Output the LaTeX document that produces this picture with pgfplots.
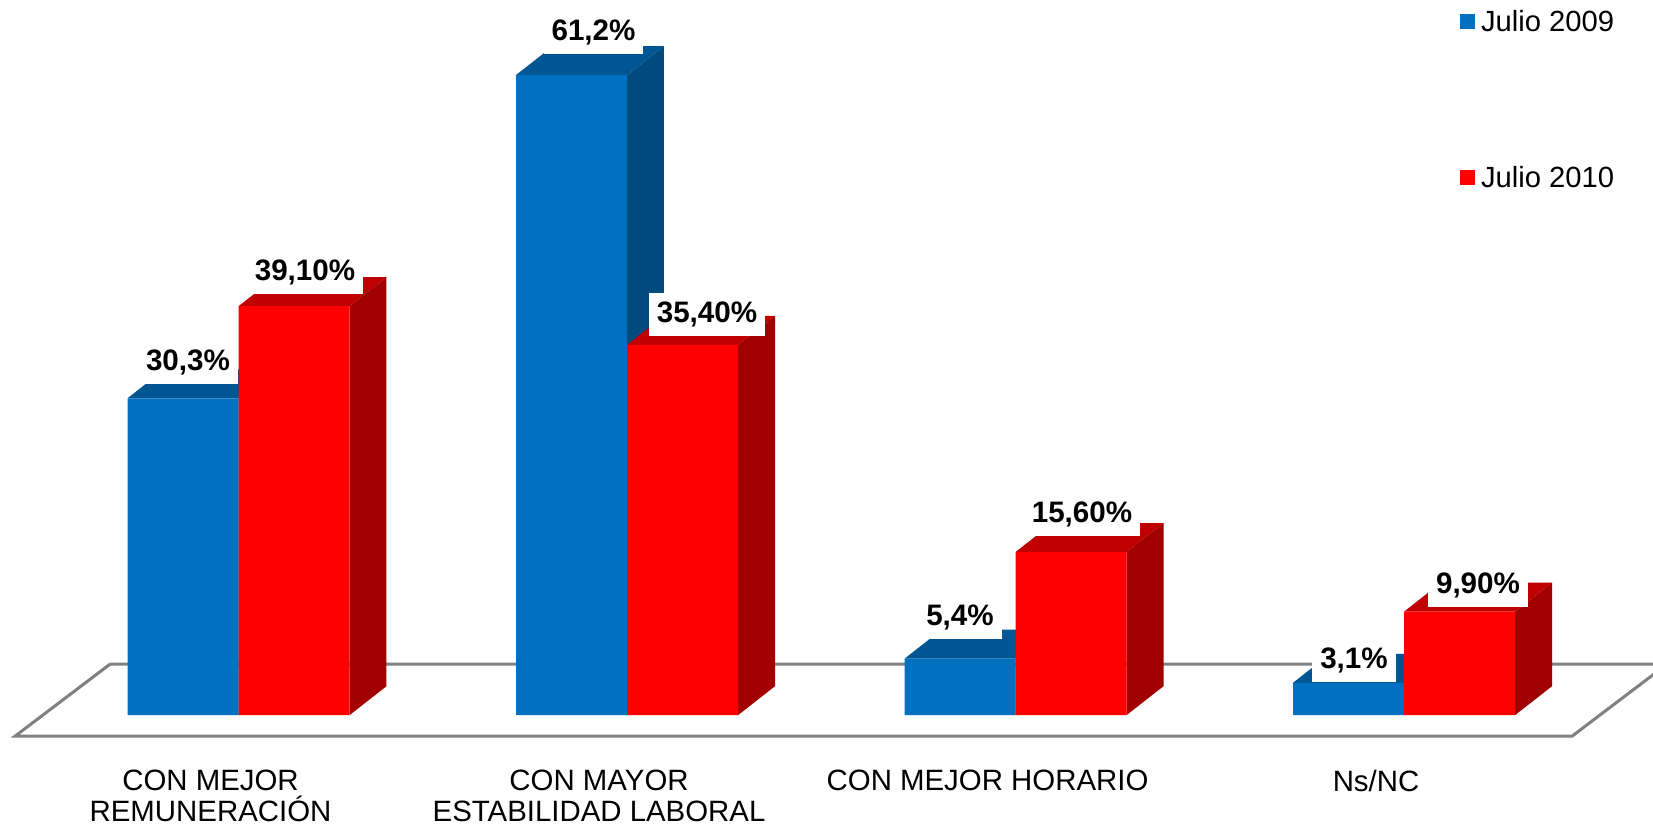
\documentclass[border=0pt]{standalone}
\usepackage{fontspec}
\setmainfont{Liberation Sans}
\usepackage{pgfplots}
\usepackage{pgfplotstable}
\pgfplotsset{compat=1.18}

\definecolor{bfront}{RGB}{0,112,192}
\definecolor{btop}{RGB}{0,86,146}
\definecolor{bside}{RGB}{0,74,126}
\definecolor{rfront}{RGB}{255,0,0}
\definecolor{rtop}{RGB}{192,0,0}
\definecolor{rside}{RGB}{160,0,0}
\definecolor{floorgray}{RGB}{128,128,128}

% x: category, a: Julio 2009, b: Julio 2010; la/lb labels; ox/oy label offsets (pt)
\pgfplotstableread{
x a la oxa oya b lb oxb oyb
0 30.3 30,3 2.5 14 39.1 39,10 5.5 13
1 61.2 61,2 11 17.5 35.4 35,40 12.25 11
2 5.4 5,4 0 16.5 15.6 15,60 5.5 15
3 3.1 3,1 2.75 7 9.9 9,90 9.25 9
}\data

\def\bw{0.285714}
\def\dxu{0.0952}
\def\dyu{2.772}

\newcommand\facesfor[4]{% #1 column, #2 left offset, #3 side colour, #4 top colour
  \pgfplotsforeachungrouped \rr in {0,1,2,3}{%
    \pgfplotstablegetelem{\rr}{#1}\of\data
    \pgfmathsetmacro\bval{\pgfplotsretval}%
    \pgfmathsetmacro\bxl{\rr+#2}%
    \pgfmathsetmacro\bxr{\bxl+\bw}%
    \pgfmathsetmacro\bxld{\bxl+\dxu}%
    \pgfmathsetmacro\bxrd{\bxr+\dxu}%
    \pgfmathsetmacro\bvd{\bval+\dyu}%
    \edef\tmp{%
      \noexpand\addplot[fill=#3,draw=none,forget plot,mark=none] coordinates {(\bxr,0) (\bxrd,\dyu) (\bxrd,\bvd) (\bxr,\bval)};
      \noexpand\addplot[fill=#4,draw=none,forget plot,mark=none] coordinates {(\bxl,\bval) (\bxld,\bvd) (\bxrd,\bvd) (\bxr,\bval)};
    }\tmp
  }%
}

\pgfplotsset{
  sqlegend/.style={legend image code/.code={\fill[##1] (0pt,1.5pt) rectangle (7.5pt,9pt);}},
  lbl/.style={draw=none, mark=none, forget plot, point meta=explicit symbolic,
    nodes near coords={\pgfplotspointmeta\%},
    every node near coord/.append style={font=\fontsize{14.8}{16}\selectfont\bfseries,
      fill=white, inner xsep=4pt, inner ysep=4.5pt, anchor=base,
      xshift=\lox pt, yshift=\loy pt}},
}

\begin{document}
\begin{tikzpicture}
\begin{axis}[
  scale only axis,
  width=826.5pt, height=414.5pt,
  xmin=-0.6139, xmax=3.6409,
  ymin=-10.899, ymax=68.356,
  axis line style={draw=none},
  major tick length=0pt,
  ytick=\empty,
  xtick={-0.072,0.928,1.928,2.928},
  xticklabels={{CON MEJOR\\REMUNERACIÓN},{CON MAYOR\\ESTABILIDAD LABORAL},{CON MEJOR HORARIO},{Ns/NC}},
  x tick label style={align=center, anchor=north, inner sep=0pt, yshift=29.8pt,
    font=\fontsize{14.7}{15.5}\selectfont},
  legend style={at={(axis description cs:0.8833,0.9876)}, anchor=north west,
    draw=none, fill=none, inner sep=0pt, outer sep=0pt, row sep=66pt,
    font=\fontsize{14.6}{16}\selectfont,
    nodes={inner sep=0pt, anchor=base west},
    /tikz/every odd column/.append style={column sep=3pt}},
  legend cell align=left,
]
% floor
\addplot[draw=floorgray, line width=1.5pt, forget plot, mark=none]
  coordinates {(-0.3308,4.876) (3.677,4.876) (3.4324,-2.008) (-0.5753,-2.008) (-0.3308,4.876)};

% Julio 2009
\facesfor{a}{-0.285714}{bside}{btop}
\addplot[ybar, bar width=0.285714, bar shift=-0.142857, fill=bfront, draw=none, sqlegend]
  table[x=x, y=a] {\data};
\addlegendentry{Julio 2009}

% Julio 2010
\facesfor{b}{0}{rside}{rtop}
\addplot[ybar, bar width=0.285714, bar shift=0.142857, fill=rfront, draw=none, sqlegend]
  table[x=x, y=b] {\data};
\addlegendentry{Julio 2010}

% labels
\addplot[lbl, visualization depends on={\thisrow{oxa}\as\lox},
  visualization depends on={\thisrow{oya}\as\loy}]
  table[x expr=\thisrow{x}-0.142857, y=a, meta=la] {\data};
\addplot[lbl, visualization depends on={\thisrow{oxb}\as\lox},
  visualization depends on={\thisrow{oyb}\as\loy}]
  table[x expr=\thisrow{x}+0.142857, y=b, meta=lb] {\data};
\end{axis}
\end{tikzpicture}
\end{document}
